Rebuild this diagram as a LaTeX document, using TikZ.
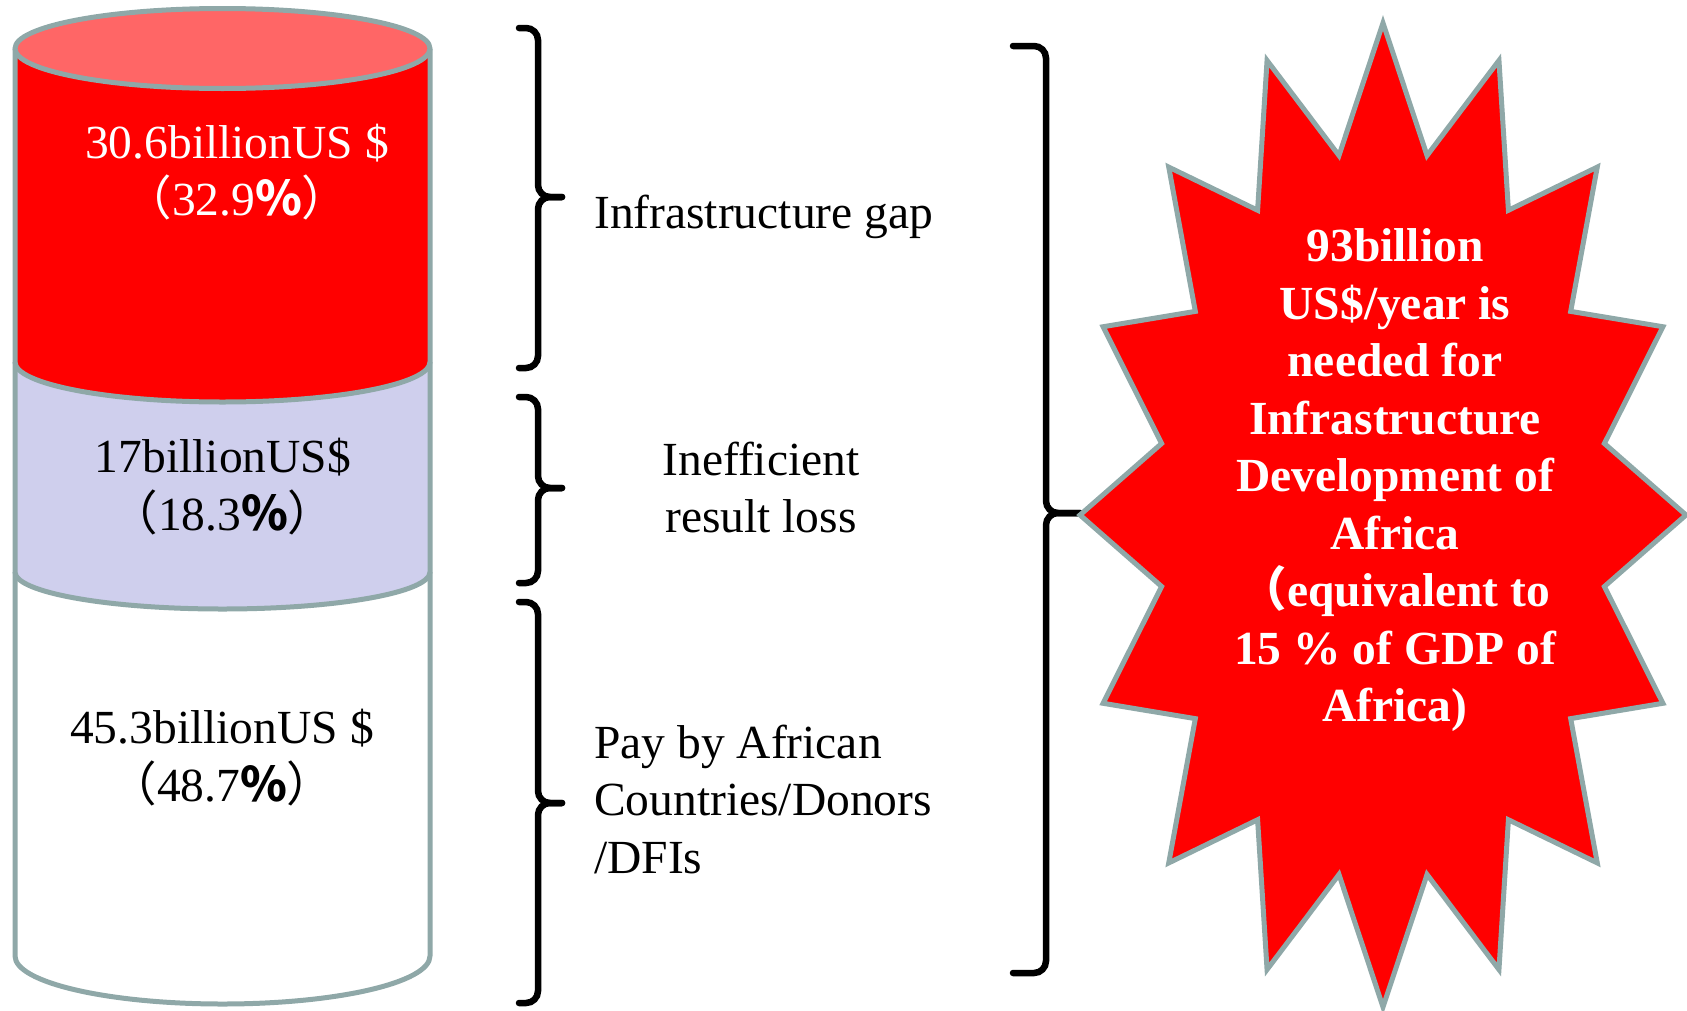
\documentclass[tikz,border=0pt]{standalone}
\usepackage{fontspec}
\setmainfont{Liberation Serif}
\newfontfamily\cjkfont{Noto Sans CJK SC}
\definecolor{rimcol}{RGB}{143,168,168}
\definecolor{topred}{RGB}{255,102,102}
\definecolor{bodyred}{RGB}{255,0,0}
\definecolor{lavcol}{RGB}{207,207,237}
\newcommand{\cjkl}{{\cjkfont （}}
\newcommand{\cjkr}{{\cjkfont ）}}
\newcommand{\cjkpct}{{\cjkfont\bfseries\%}}
\begin{document}
\begin{tikzpicture}[x=1pt,y=-1pt,
  rim/.style={draw=rimcol, line width=5pt, line join=round},
  txt/.style={font=\fontsize{47.5}{57.5}\selectfont, align=center, inner sep=0pt,
    execute at begin node=\strut, execute at end node=\strut},
  bracestyle/.style={line width=6.5pt, line cap=round, rounded corners=12pt}]
\useasboundingbox (0,0) rectangle (1687,1010);

% cylinder: white bottom part
\path[rim, fill=white] (15,572) -- (15,956)
  arc[start angle=180, end angle=0, x radius=207.5, y radius=48] -- (430,572);
% lavender part
\path[rim, fill=lavcol] (15,362) -- (15,572)
  arc[start angle=180, end angle=0, x radius=207.5, y radius=37] -- (430,362);
% red part
\path[rim, fill=bodyred] (15,48.5) -- (15,362)
  arc[start angle=180, end angle=0, x radius=207.5, y radius=40] -- (430,48.5);
% top ellipse
\draw[rim, fill=topred] (222.5,48.5) ellipse[x radius=207.5, y radius=40];

\node[txt, text=white] (red) at (237,178.5) {30.6billionUS \$\\\cjkl 32.9\cjkpct\cjkr};
\node[txt] (lav) at (223,493) {17billionUS\$\\\cjkl 18.3\cjkpct\cjkr};
\node[txt] (wht) at (222,764) {45.3billionUS \$\\\cjkl 48.7\cjkpct\cjkr};

% braces
\coordinate (b1tip) at (562,197);
\coordinate (b2tip) at (562,488);
\coordinate (b3tip) at (562,803);
\coordinate (b4tip) at (1080,513);
\draw[bracestyle] (519,28) -- (538,28) -- (538,197) -- (b1tip);
\draw[bracestyle] (519,368) -- (538,368) -- (538,197) -- (b1tip);
\draw[bracestyle] (519,397) -- (538,397) -- (538,488) -- (b2tip);
\draw[bracestyle] (519,583) -- (538,583) -- (538,488) -- (b2tip);
\draw[bracestyle] (519,602) -- (538,602) -- (538,803) -- (b3tip);
\draw[bracestyle] (519,1003) -- (538,1003) -- (538,803) -- (b3tip);
\draw[bracestyle] (1013,46) -- (1046,46) -- (1046,513) -- (b4tip);
\draw[bracestyle] (1013,973) -- (1046,973) -- (1046,513) -- (b4tip);

\node[txt, anchor=west] (gap) at (594,217) {Infrastructure gap};
\node[txt] (ineff) at (761,496) {Inefficient\\result loss};
\node[txt, anchor=west, align=left] (pay) at (594,807.5) {Pay by African\\Countries/Donors\\/DFIs};

% star
\draw[rim, line join=miter, fill=bodyred]
  plot[variable=\k, samples at={0,...,31}]
  ({1383+(1-0.255*mod(\k,2))*303*cos(90+11.25*\k)},
   {515-(1-0.255*mod(\k,2))*492*sin(90+11.25*\k)}) -- cycle;
\node[txt, text=white, font=\fontsize{47.5}{57.5}\selectfont\bfseries] (msg) at (1395,484)
  {93billion\\US\$/year is\\needed for\\Infrastructure\\Development of\\Africa\\\cjkl equivalent to\\15 \% of GDP of\\Africa)};
\end{tikzpicture}
\end{document}
